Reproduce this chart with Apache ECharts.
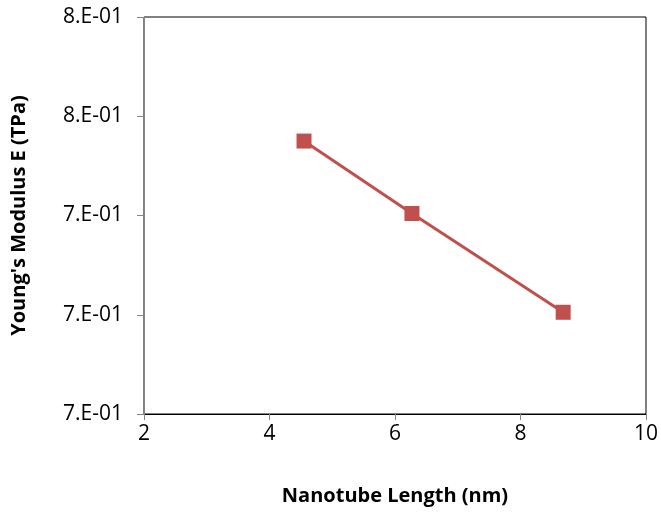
<!DOCTYPE html>
<html>
<head>
<meta charset="utf-8">
<script src="https://cdn.jsdelivr.net/npm/echarts@6/dist/echarts.min.js"></script>
<style>
  html, body { margin: 0; padding: 0; background: #fff; }
  #chart { width: 661px; height: 514px; }
</style>
</head>
<body>
<div id="chart"></div>
<script>
// nanotube length (nm) vs Young's modulus (TPa)
const lengthNm = [4.55, 6.27, 8.68]
const modulusTPa = [0.755, 0.7404, 0.7205]

const xTitle = 'Nanotube Length (nm)'
const yTitle = "Young's Modulus E (TPa)"

const font = '"Open Sans", "Liberation Sans", sans-serif'

// Excel style "0.E+00"
function sciLabel(v) {
  const s = Number(v).toExponential(0) // e.g. 8e-1
  const [m, e] = s.split('e')
  const n = parseInt(e, 10)
  const sign = n < 0 ? '-' : '+'
  const abs = String(Math.abs(n)).padStart(2, '0')
  return `${m}.E${sign}${abs}`
}

const chart = echarts.init(document.getElementById('chart'), null, { renderer: 'canvas' })

chart.setOption({
  animation: false,
  backgroundColor: '#fff',
  grid: {
    left: 144, right: 15, top: 17, bottom: 100,
    show: true, borderColor: '#000', borderWidth: 1,
  },
  xAxis: {
    type: 'value',
    min: 2, max: 10, interval: 2,
    name: xTitle,
    nameLocation: 'middle',
    nameGap: 72,
    nameTextStyle: { fontFamily: font, fontSize: 20, fontWeight: 'bold', color: '#000' },
    axisLine: { show: true, onZero: false, lineStyle: { color: '#000', width: 1 } },
    axisTick: { show: true, inside: false, length: 6, lineStyle: { color: '#868686' } },
    axisLabel: { fontFamily: font, fontSize: 21, color: '#000', margin: 10 },
    splitLine: { show: false },
  },
  yAxis: {
    type: 'value',
    min: 0.7, max: 0.78, interval: 0.02,
    name: yTitle,
    nameLocation: 'middle',
    nameGap: 115,
    nameRotate: 90,
    nameTextStyle: { fontFamily: font, fontSize: 20, fontWeight: 'bold', color: '#000' },
    axisLine: { show: true, onZero: false, lineStyle: { color: '#868686', width: 1 } },
    axisTick: { show: true, inside: false, length: 7, lineStyle: { color: '#868686' } },
    axisLabel: { fontFamily: font, fontSize: 21, color: '#000', margin: 21, formatter: sciLabel },
    splitLine: { show: false },
  },
  series: [
    {
      type: 'line',
      data: lengthNm.map((x, i) => [x, modulusTPa[i]]),
      symbol: 'rect',
      symbolSize: 15,
      itemStyle: { color: '#C0504D' },
      lineStyle: { color: '#C0504D', width: 3 },
    },
  ],
})
</script>
</body>
</html>
